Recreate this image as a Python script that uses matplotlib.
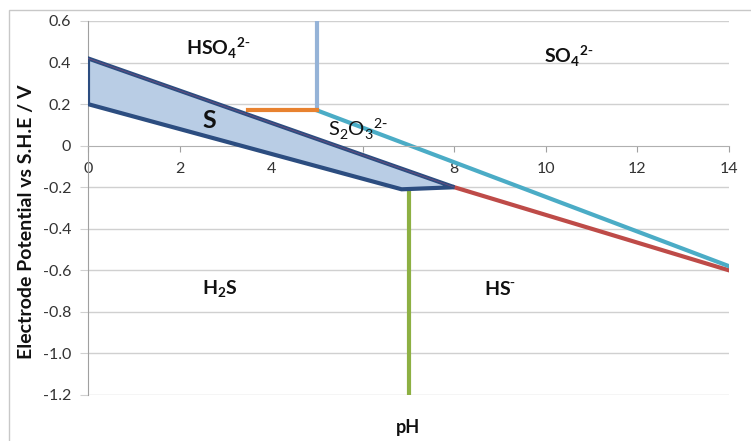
import matplotlib
matplotlib.use("Agg")
import matplotlib.pyplot as plt
from matplotlib.patches import Polygon, Rectangle

plt.rcParams['font.family'] = ['Lato', 'DejaVu Sans']

# Sulfur Pourbaix diagram data (pH, E / V vs S.H.E)
s_region_ph = [0, 8, 6.85, 0]
s_region_e = [0.42, -0.20, -0.21, 0.20]

hs_boundary_ph = [8, 14]
hs_boundary_e = [-0.20, -0.60]

thio_boundary_ph = [5, 14]
thio_boundary_e = [0.17, -0.58]

hso4_boundary_ph = [5, 5]
hso4_boundary_e = [0.17, 0.60]

s_thio_boundary_ph = [3.5, 5]
s_thio_boundary_e = [0.17, 0.17]

h2s_hs_boundary_ph = [7, 7]
h2s_hs_boundary_e = [-0.21, -1.20]

x_ticks = [0, 2, 4, 6, 8, 10, 12, 14]
y_ticks = [0.6, 0.4, 0.2, 0.0, -0.2, -0.4, -0.6, -0.8, -1.0, -1.2]

species_labels = [
    (r"HSO$_\mathregular{4}$$^\mathregular{2\text{-}}$", 2.85, 0.47, 'bold', 14),
    (r"SO$_\mathregular{4}$$^\mathregular{2\text{-}}$", 10.5, 0.43, 'bold', 14),
    ("S", 2.65, 0.12, 'bold', 18),
    (r"S$_\mathregular{2}$O$_\mathregular{3}$$^\mathregular{2\text{-}}$", 5.9, 0.08, 'normal', 14.5),
    (r"H$_\mathregular{2}$S", 2.87, -0.69, 'bold', 14),
    (r"HS$^\mathregular{\text{-}}$", 9.0, -0.69, 'bold', 14),
]

fig = plt.figure(figsize=(7.51, 4.41), dpi=100)
fig.patches.append(Rectangle((9 / 751, -0.1), 2.0, 1.1 - 10 / 441,
                             transform=fig.transFigure, fill=False,
                             edgecolor='#c8c8c8', linewidth=1.0))
ax = fig.add_axes([88 / 751, 1 - 395 / 441, (729 - 88) / 751, (395 - 21) / 441])

ax.set_xlim(0, 14)
ax.set_ylim(-1.2, 0.6)

for y in y_ticks:
    if y != 0.0:
        ax.axhline(y, color='#d0d0d0', linewidth=1.0, zorder=0)

ax.add_patch(Polygon(list(zip(s_region_ph, s_region_e)), closed=True,
                     facecolor='#b9cde5', edgecolor='#2c4d80', linewidth=3,
                     joinstyle='miter', zorder=3))
ax.plot(s_region_ph[:2], s_region_e[:2], color='#9a4a7a', linewidth=0.5,
        alpha=0.7, zorder=4)

ax.plot(hs_boundary_ph, hs_boundary_e, color='#be4b48', linewidth=3, zorder=2)
ax.plot(thio_boundary_ph, thio_boundary_e, color='#4bacc6', linewidth=3, zorder=2)
ax.plot(hso4_boundary_ph, hso4_boundary_e, color='#95b3d7', linewidth=3, zorder=2)
ax.plot(s_thio_boundary_ph, s_thio_boundary_e, color='#e8822f', linewidth=3, zorder=2)
ax.plot(h2s_hs_boundary_ph, h2s_hs_boundary_e, color='#8db043', linewidth=3, zorder=2)

for text, x, y, weight, size in species_labels:
    ax.text(x, y, text, ha='center', va='center', fontsize=size,
            fontweight=weight, color='#111111', zorder=5)

for side in ('top', 'right'):
    ax.spines[side].set_visible(False)
ax.spines['left'].set_color('#a0a0a0')
ax.spines['bottom'].set_color('#b0b0b0')
ax.spines['bottom'].set_position(('data', 0))

ax.set_xticks(x_ticks)
ax.set_xticklabels([str(t) for t in x_ticks])
ax.set_yticks(y_ticks)
ax.set_yticklabels(["0" if t == 0 else f"{t:.1f}" for t in y_ticks])
ax.tick_params(axis='x', direction='out', length=4, color='#a0a0a0',
               labelsize=11.5, labelcolor='#333333', pad=8)
ax.tick_params(axis='y', direction='out', length=6, color='#d0d0d0',
               labelsize=11.5, labelcolor='#333333', pad=6)

fig.text(408 / 751, 1 - 428 / 441, "pH", ha='center', va='center',
         fontsize=13, fontweight='bold', color='#111111')
fig.text(27 / 751, 1 - 222 / 441, "Electrode Potential vs S.H.E / V",
         rotation=90, ha='center', va='center', fontsize=14,
         fontweight='bold', color='#111111')

fig.savefig("out.png", dpi=100)
